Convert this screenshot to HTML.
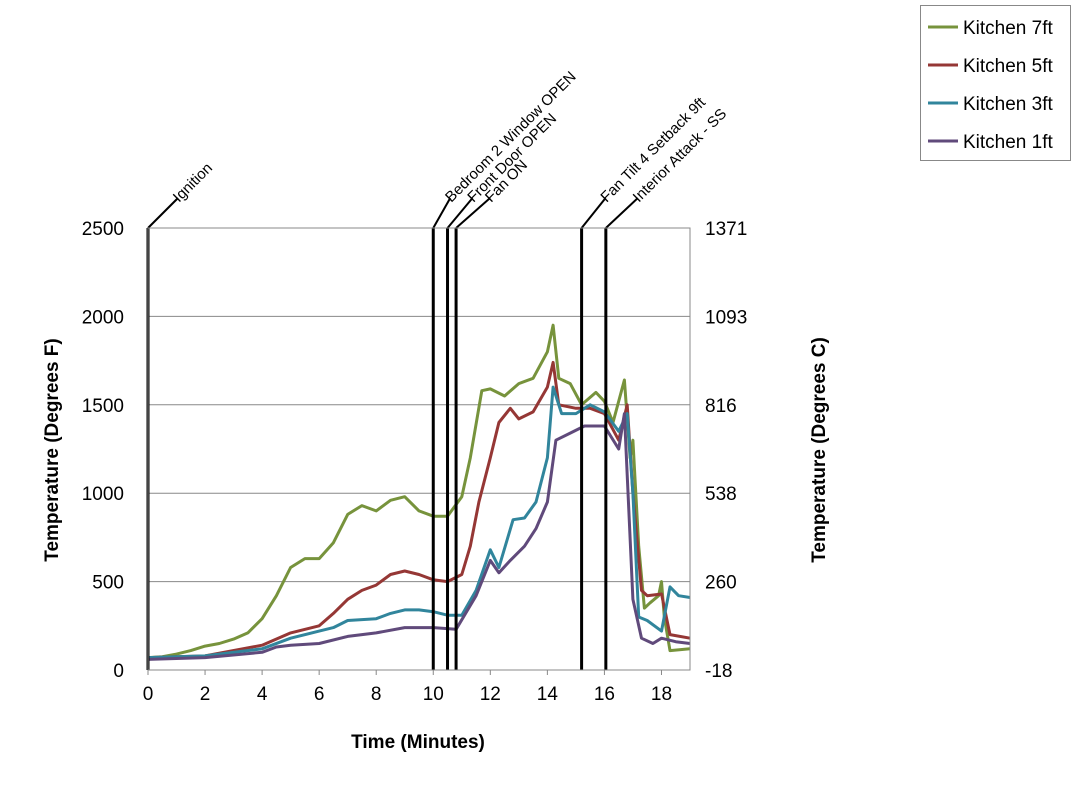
<!DOCTYPE html>
<html><head><meta charset="utf-8"><style>
body{margin:0;background:#fff;font-family:"Liberation Sans",sans-serif}
svg text{font-family:"Liberation Sans",sans-serif}
</style></head><body>
<svg id="chart" width="1083" height="786" viewBox="0 0 1083 786" xmlns="http://www.w3.org/2000/svg">
<g id="grid"></g>
<g id="series"></g>
<g id="events"></g>
<g id="axes"></g>
<text x="0" y="0" transform="translate(58,450) rotate(-90)" text-anchor="middle" font-size="19" font-weight="bold">Temperature (Degrees F)</text>
<text x="0" y="0" transform="translate(825,450) rotate(-90)" text-anchor="middle" font-size="19" font-weight="bold">Temperature (Degrees C)</text>
<text x="418" y="748" text-anchor="middle" font-size="19" font-weight="bold">Time (Minutes)</text>
<g>
<rect x="920.5" y="5.5" width="150" height="155" fill="#fff" stroke="#888"/>
<g id="legend"></g>
</g>
</svg>
<script>
const seriesNames=["Kitchen 7ft","Kitchen 5ft","Kitchen 3ft","Kitchen 1ft"];
const seriesColors=["#77933C","#953735","#31859C","#604A7B"];
const k7=[[0,70],[0.5,75],[1,90],[1.5,110],[2,135],[2.5,150],[3,175],[3.5,210],[4,290],[4.5,420],[5,580],[5.5,630],[6,630],[6.5,720],[7,880],[7.5,930],[8,900],[8.5,960],[9,980],[9.5,900],[10,870],[10.5,870],[11,980],[11.3,1200],[11.7,1580],[12,1590],[12.5,1550],[13,1620],[13.5,1650],[14,1800],[14.2,1950],[14.4,1650],[14.8,1620],[15.2,1500],[15.7,1570],[16,1520],[16.3,1400],[16.7,1640],[16.9,1200],[17,1300],[17.2,700],[17.4,350],[17.6,380],[17.9,420],[18,500],[18.1,300],[18.3,110],[19,120]];
const k5=[[0,70],[2,80],[4,140],[5,210],[6,250],[6.5,320],[7,400],[7.5,450],[8,480],[8.5,540],[9,560],[9.5,540],[10,510],[10.5,500],[11,540],[11.3,700],[11.6,950],[12,1200],[12.3,1400],[12.7,1480],[13,1420],[13.5,1460],[14,1600],[14.2,1740],[14.4,1500],[15,1480],[15.5,1480],[16,1450],[16.5,1300],[16.8,1500],[17,1000],[17.3,450],[17.5,420],[18,430],[18.3,200],[19,180]];
const k3=[[0,70],[2,80],[4,120],[5,180],[6,220],[6.5,240],[7,280],[8,290],[8.5,320],[9,340],[9.5,340],[10,330],[10.5,310],[11,310],[11.5,450],[12,680],[12.3,580],[12.8,850],[13.2,860],[13.6,950],[14,1200],[14.2,1600],[14.5,1450],[15,1450],[15.5,1500],[16,1460],[16.5,1350],[16.8,1450],[17,1000],[17.2,300],[17.5,280],[18,220],[18.3,470],[18.6,420],[19,410]];
const k1=[[0,60],[2,70],[4,100],[4.5,130],[5,140],[6,150],[7,190],[8,210],[9,240],[10,240],[10.8,230],[11.5,420],[12,620],[12.3,550],[12.7,620],[13.2,700],[13.6,800],[14,950],[14.3,1300],[14.8,1340],[15.3,1380],[16,1380],[16.5,1250],[16.7,1450],[17,400],[17.3,180],[17.7,150],[18,180],[18.5,160],[19,150]];
const xTicks=[0,2,4,6,8,10,12,14,16,18];
const yTicks=[0,500,1000,1500,2000,2500];
const yTicksC=["-18","260","538","816","1093","1371"];
const eventTimes=[0,10,10.5,10.8,15.2,16.05];
const eventLabels=["Ignition","Bedroom 2 Window OPEN","Front Door OPEN","Fan ON","Fan Tilt 4 Setback 9ft","Interior Attack - SS"];
const eventDx=[30,17,25,34,24,32];

const NS="http://www.w3.org/2000/svg";
const X0=148,X1=690,Y0=670,Y1=228;
const xs=t=>X0+t/19*(X1-X0);
const ys=v=>Y0-v/2500*(Y0-Y1);
function mk(tag,attrs,parent){const e=document.createElementNS(NS,tag);for(const k in attrs)e.setAttribute(k,attrs[k]);parent.appendChild(e);return e;}
const grid=document.getElementById('grid'),axes=document.getElementById('axes'),ser=document.getElementById('series'),ev=document.getElementById('events'),leg=document.getElementById('legend');
yTicks.forEach((v,i)=>{
 if(v>0&&v<2500){const l=mk('line',{x1:X0,x2:X1,y1:ys(v),y2:ys(v),stroke:'#888','stroke-width':1},grid);
 
 }
 const t=mk('text',{x:124,y:ys(v)+7,'text-anchor':'end','font-size':19},axes);t.textContent=v;
 
 
 const t2=mk('text',{x:705,y:ys(v)+7,'font-size':19},axes);t2.textContent=yTicksC[i];
 
 
});
mk('rect',{x:X0,y:Y1,width:X1-X0,height:Y0-Y1,fill:'none',stroke:'#888'},axes);
mk('line',{x1:X0,x2:X1,y1:Y0,y2:Y0,stroke:'#888'},axes);
xTicks.forEach(v=>{const t=mk('text',{x:xs(v),y:700,'text-anchor':'middle','font-size':19},axes);t.textContent=v;
 
 
 mk('line',{x1:xs(v),x2:xs(v),y1:Y0,y2:Y0+5,stroke:'#888'},axes);});
[k7,k5,k3,k1].forEach((d,i)=>{
 const p=mk('polyline',{points:d.map(q=>xs(q[0]).toFixed(1)+','+ys(q[1]).toFixed(1)).join(' '),fill:'none',stroke:seriesColors[i],'stroke-width':3,'stroke-linejoin':'round'},ser);
 
 
 const ly=27+i*38;
 const ll=mk('line',{x1:928,x2:958,y1:ly,y2:ly,stroke:seriesColors[i],'stroke-width':3},leg);
 
 
 const lt=mk('text',{x:963,y:ly+7,'font-size':19},leg);lt.textContent=seriesNames[i];
 
 
});
eventTimes.forEach((t,i)=>{
 const x=xs(t);
 const l=mk('line',{x1:x,x2:x,y1:Y1,y2:Y0,stroke:'#000','stroke-width':3},ev);
 
 
 const ex=x+eventDx[i],ey=Y1-30;
 mk('line',{x1:x,y1:Y1,x2:ex,y2:ey,stroke:'#000','stroke-width':2},ev);
 const tx=mk('text',{x:0,y:0,'font-size':15,transform:`translate(${ex+1},${ey+5}) rotate(-45)`},ev);
 tx.textContent=eventLabels[i];
 
 
});
</script>
</body></html>
